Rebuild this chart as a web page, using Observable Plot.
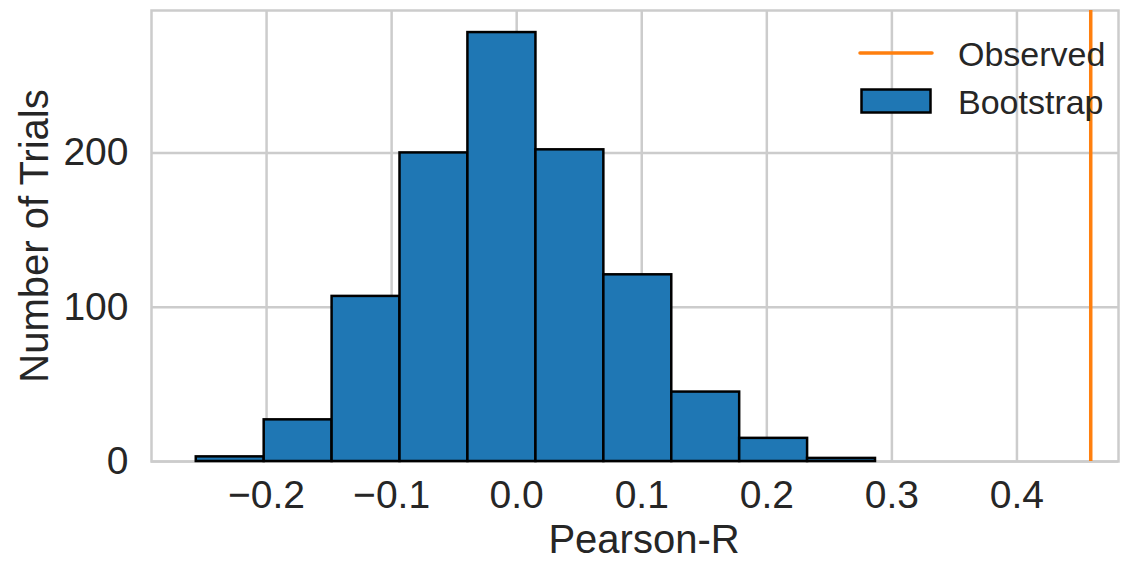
<!DOCTYPE html>
<html><head><meta charset="utf-8">
<script src="https://cdn.jsdelivr.net/npm/d3@7"></script>
<script src="https://cdn.jsdelivr.net/npm/@observablehq/plot@0.6"></script>
<style>
html,body{margin:0;padding:0;background:#fff;}
#wrap{position:relative;width:1123px;height:561px;font-family:"Liberation Sans",Arial,sans-serif;}
.lg-text{position:absolute;left:958px;font-size:34px;line-height:40px;color:#262626;white-space:nowrap;}
.lg-sw{position:absolute;left:858px;}
</style></head><body><div id="wrap"></div>
<script>
// Data
const binEdges = [-0.2562, -0.2019, -0.1476, -0.0933, -0.0390, 0.0154, 0.0697, 0.1240, 0.1783, 0.2326, 0.2869];
const counts = [3, 27, 107, 200, 278, 202, 121, 45, 15, 2];
const observedR = [0.459];
const xTicks = [-0.2, -0.1, 0.0, 0.1, 0.2, 0.3, 0.4];
const yTicks = [0, 100, 200];
const seriesNames = ["Observed", "Bootstrap"];
const seriesColors = ["#ff7f0e", "#1f77b4"];
const xLabel = "Pearson-R";
const yLabel = "Number of Trials";

const bins = counts.map((c, i) => ({x1: binEdges[i], x2: binEdges[i + 1], count: c}));
const ink = "#262626";

const chart = Plot.plot({
  width: 1123, height: 561,
  marginLeft: 151, marginRight: 5, marginTop: 10, marginBottom: 100,
  style: {fontFamily: "'Liberation Sans', Arial, sans-serif", fontSize: "39px", color: ink, background: "#fff"},
  x: {domain: [-0.292, 0.4812]},
  y: {domain: [0, 292.3]},
  marks: [
    Plot.gridX(xTicks, {stroke: "#cccccc", strokeOpacity: 1, strokeWidth: 2.5}),
    Plot.gridY(yTicks, {stroke: "#cccccc", strokeOpacity: 1, strokeWidth: 2.5}),
    Plot.frame({stroke: "#cccccc", strokeWidth: 2.5}),
    Plot.rectY(bins, {x1: "x1", x2: "x2", y: "count", fill: seriesColors[1], stroke: "#000", strokeWidth: 2.5}),
    Plot.ruleX(observedR, {stroke: seriesColors[0], strokeWidth: 3.5}),
    Plot.axisX(xTicks, {tickFormat: d3.format(".1f"), tickSize: 0, tickPadding: 19, fontSize: 39, fill: ink, label: null}),
    Plot.axisY(yTicks, {tickSize: 0, tickPadding: 23, fontSize: 39, fill: ink, label: null}),
    Plot.text([xLabel], {frameAnchor: "bottom", text: d => d, fontSize: 40, textAnchor: "middle", lineAnchor: "bottom", dy: 91, dx: 9, fill: ink}),
    Plot.text([yLabel], {frameAnchor: "left", text: d => d, fontSize: 40, rotate: -90, textAnchor: "middle", lineAnchor: "bottom", dx: -104, fill: ink})
  ]
});
const wrap = document.getElementById("wrap");
wrap.appendChild(chart);

// Legend (overlaid, no frame)
const lgTops = [34, 82];
seriesNames.forEach((name, i) => {
  const t = document.createElement("div");
  t.className = "lg-text";
  t.style.top = lgTops[i] + "px";
  t.textContent = name;
  wrap.appendChild(t);
  const sw = document.createElementNS("http://www.w3.org/2000/svg", "svg");
  sw.setAttribute("class", "lg-sw");
  sw.setAttribute("width", 76);
  sw.setAttribute("height", 30);
  if (i === 0) {
    sw.style.top = "38px";
    sw.innerHTML = `<line x1="2" x2="74" y1="15" y2="15" stroke="${seriesColors[0]}" stroke-width="3.5" stroke-linecap="round"/>`;
  } else {
    sw.style.top = "86px";
    sw.innerHTML = `<rect x="3.5" y="3.5" width="69" height="23" fill="${seriesColors[1]}" stroke="#000" stroke-width="2.5"/>`;
  }
  wrap.appendChild(sw);
});
</script></body></html>
